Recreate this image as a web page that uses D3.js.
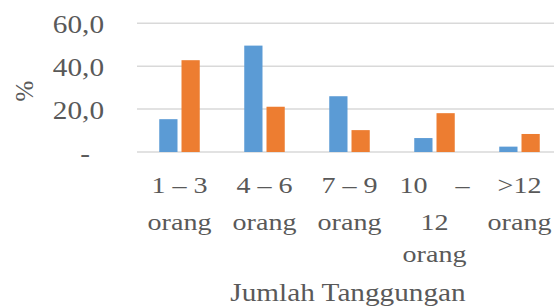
<!DOCTYPE html>
<html>
<head>
<meta charset="utf-8">
<script src="https://cdn.jsdelivr.net/npm/d3@7"></script>
<style>
  body { margin: 0; background: #fff; }
  text { fill: #595959; }
</style>
</head>
<body>
<svg id="chart" width="554" height="307"></svg>
<script>
// categories (each label already wrapped as in the original)
var categories = ["1 – 3 orang", "4 – 6 orang", "7 – 9 orang", "10 – 12 orang", ">12 orang"];
var categoryLines = [["1 – 3", "orang"], ["4 – 6", "orang"], ["7 – 9", "orang"], ["10    –", "12", "orang"], [">12", "orang"]];
var seriesA = [15.3, 49.6, 26.0, 6.5, 2.5];   // blue
var seriesB = [42.8, 21.1, 10.2, 18.1, 8.4];  // orange
var yTicks = [0, 20, 40, 60];
var yTickLabels = ["-", "20,0", "40,0", "60,0"];

var font = "'Liberation Serif', Tinos, 'Times New Roman', Times, serif";
var svg = d3.select("#chart");
var stretch = 1.17; // text in the source is wider than plain Times

var x = d3.scaleBand()
    .domain(categories)
    .range([137, 562]);

var sub = d3.scaleBand()
    .domain(["a", "b"])
    .range([0, x.bandwidth()])
    .paddingInner(0.18)
    .paddingOuter(1.0);

var y = d3.scaleLinear()
    .domain([0, 60])
    .range([152, 23.3]);

// gridlines
svg.append("g")
    .selectAll("line")
  .data(yTicks).enter().append("line")
    .attr("x1", 137)
    .attr("x2", 554)
    .attr("y1", d => y(d))
    .attr("y2", d => y(d))
    .style("stroke", "#d9d9d9")
    .style("stroke-width", 1.5);

// y tick labels
svg.append("g")
    .selectAll("text")
  .data(yTicks).enter().append("text")
    .attr("transform", (d, i) => "translate(" + (i == 0 ? 90 : 104) + "," + (y(d) + 10) + ") scale(" + stretch + ",1)")
    .attr("text-anchor", "end")
    .style("font-family", font)
    .style("font-size", "25px")
    .text((d, i) => yTickLabels[i]);

// bars
var groups = svg.append("g")
    .selectAll("g")
  .data(categories).enter().append("g")
    .attr("transform", d => "translate(" + x(d) + ",0)");

groups.append("rect")
    .attr("x", sub("a"))
    .attr("y", (d, i) => y(seriesA[i]))
    .attr("width", sub.bandwidth())
    .attr("height", (d, i) => y(0) - y(seriesA[i]))
    .style("fill", "#5b9bd5");

groups.append("rect")
    .attr("x", sub("b"))
    .attr("y", (d, i) => y(seriesB[i]))
    .attr("width", sub.bandwidth())
    .attr("height", (d, i) => y(0) - y(seriesB[i]))
    .style("fill", "#ed7d31");

// category labels, wrapped under each band
var lineY = [193, 230, 262];
var labels = svg.append("g")
    .selectAll("g")
  .data(categories).enter().append("g");

labels.each(function(d, i) {
    var g = d3.select(this);
    categoryLines[i].forEach(function(line, j) {
      g.append("text")
        .attr("transform", "translate(" + (x(d) + x.bandwidth() / 2) + "," + lineY[j] + ") scale(" + stretch + ",1)")
        .attr("text-anchor", "middle")
        .style("font-family", font)
        .style("font-size", "24px")
        .style("white-space", "pre")
        .text(line);
    });
});

// axis titles
svg.append("text")
    .attr("transform", "translate(348,301) scale(" + stretch + ",1)")
    .attr("text-anchor", "middle")
    .style("font-family", font)
    .style("font-size", "25px")
    .text("Jumlah Tanggungan");

svg.append("text")
    .attr("transform", "translate(33,91) rotate(-90)")
    .attr("text-anchor", "middle")
    .style("font-family", font)
    .style("font-size", "25px")
    .text("%");
</script>
</body>
</html>
